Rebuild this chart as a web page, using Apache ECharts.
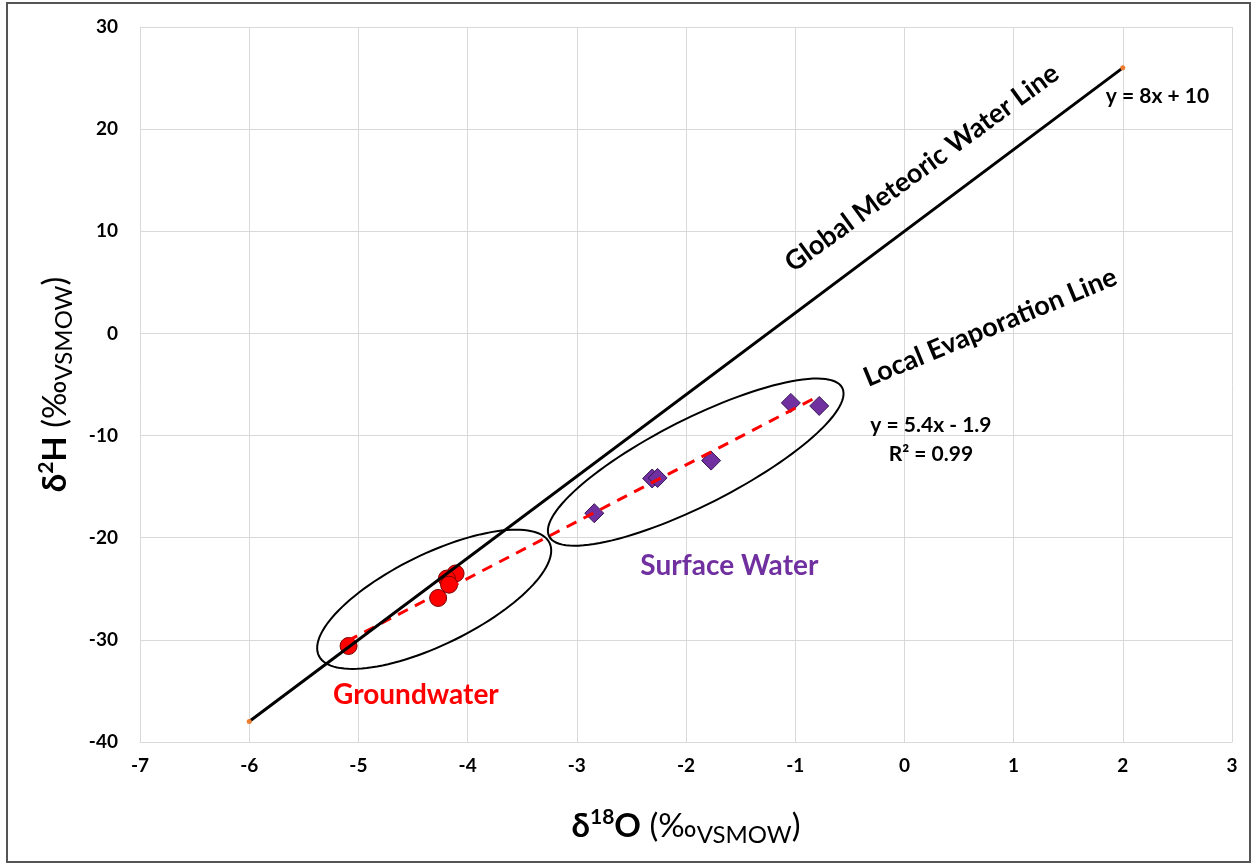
<!DOCTYPE html>
<html>
<head>
<meta charset="utf-8">
<script src="https://cdn.jsdelivr.net/npm/echarts@6/dist/echarts.min.js"></script>
<style>
html,body{margin:0;padding:0;background:#fff;}
#chart{width:1256px;height:865px;}
</style>
</head>
<body>
<div id="chart"></div>
<script>
// ---- data ----
const groundwater = [[-5.09,-30.6],[-4.11,-23.5],[-4.19,-24.0],[-4.17,-24.6],[-4.27,-25.9]];
const surfaceWater = [[-2.84,-17.6],[-2.31,-14.2],[-2.26,-14.15],[-1.77,-12.45],[-1.04,-6.8],[-0.78,-7.1]];
const gmwl = [[-6,-38],[2,26]];
const evapTrend = [[-5.1,-30.1],[-0.78,-6.1]];
const xTicks = {min:-7, max:3, interval:1};
const yTicks = {min:-40, max:30, interval:10};
// ellipses: centre x, centre y, major-axis tip x, tip y, minor/major ratio
const ellipses = [[-4.306,-26.03,-3.25,-20.5,0.353],[-1.911,-12.6,-0.569,-5.33,0.262]];
// annotation texts: x, y (centre), text
const annoText = ['Global Meteoric Water Line','Local Evaporation Line','y = 8x + 10','y = 5.4x - 1.9','R\u00b2 = 0.99','Groundwater','Surface Water'];
const annoPos = [[0.161,16.18],[0.786,0.59],[2.318,23.2],[0.243,-9.0],[0.243,-11.8],[-4.473,-35.4],[-1.603,-22.75]];

const FONT = 'Lato, "Open Sans", sans-serif';
const annoStyle = [
  {font:'bold 27px ' + FONT, fill:'#000', rot:36.2},
  {font:'bold 27px ' + FONT, fill:'#000', rot:22.4},
  {font:'bold 21px ' + FONT, fill:'#000', rot:0},
  {font:'bold 21px ' + FONT, fill:'#000', rot:0},
  {font:'bold 21px ' + FONT, fill:'#000', rot:0},
  {font:'bold 28px ' + FONT, fill:'#ff0000', rot:0},
  {font:'bold 28px ' + FONT, fill:'#7030A0', rot:0}
];

const chart = echarts.init(document.getElementById('chart'));
const axisLabel = {color:'#000', fontFamily:FONT, fontWeight:'bold', fontSize:19};
const richName = {
  b:{fontFamily:FONT, fontWeight:'bold', fontSize:33, color:'#000', lineHeight:42},
  sup:{fontFamily:FONT, fontWeight:'bold', fontSize:21, color:'#000', verticalAlign:'top', lineHeight:42, padding:[2,0,0,0]},
  r:{fontFamily:FONT, fontWeight:'normal', fontSize:33, color:'#000', lineHeight:42},
  sub:{fontFamily:FONT, fontWeight:'normal', fontSize:24, color:'#000', verticalAlign:'bottom', lineHeight:42}
};

chart.setOption({
  animation:false,
  backgroundColor:'#fff',
  grid:{left:140, right:24, top:27, bottom:123, containLabel:false},
  graphic:[{type:'rect', shape:{x:7,y:3,width:1243,height:859}, style:{fill:'none', stroke:'#555', lineWidth:2}, silent:true, z:-1}],
  xAxis:{
    type:'value', min:xTicks.min, max:xTicks.max, interval:xTicks.interval,
    axisLine:{show:true, onZero:false, lineStyle:{color:'#d9d9d9', width:1}},
    axisTick:{show:false},
    splitLine:{show:true, lineStyle:{color:'#d9d9d9', width:1}},
    axisLabel:Object.assign({margin:14}, axisLabel),
    name:'{b|\u03b4}{sup|18}{b|O}{r| (\u2030}{sub|VSMOW}{r|)}',
    nameLocation:'middle', nameGap:63,
    nameTextStyle:{rich:richName}
  },
  yAxis:{
    type:'value', min:yTicks.min, max:yTicks.max, interval:yTicks.interval,
    axisLine:{show:true, onZero:false, lineStyle:{color:'#d9d9d9', width:1}},
    axisTick:{show:false},
    splitLine:{show:true, lineStyle:{color:'#d9d9d9', width:1}},
    axisLabel:Object.assign({margin:22}, axisLabel),
    name:'{b|\u03b4}{sup|2}{b|H}{r| (\u2030}{sub|VSMOW}{r|)}',
    nameLocation:'middle', nameGap:64, nameRotate:90,
    nameTextStyle:{rich:richName}
  },
  series:[
    {
      type:'scatter', name:'Groundwater', data:groundwater, z:3,
      symbol:'circle', symbolSize:17,
      itemStyle:{color:'#ff0000', borderColor:'#7a0000', borderWidth:1, opacity:1}
    },
    {
      type:'scatter', name:'Surface Water', data:surfaceWater, z:3,
      symbol:'diamond', symbolSize:19,
      itemStyle:{color:'#7030A0', borderColor:'#3a1656', borderWidth:1, opacity:1}
    },
    {
      type:'line', name:'Evaporation trend', data:evapTrend, z:4,
      showSymbol:false, symbol:'none',
      lineStyle:{color:'#ff0000', width:3, type:[11,8]}
    },
    {
      type:'line', name:'GMWL', data:gmwl, z:5,
      symbol:'circle', symbolSize:5, showSymbol:true,
      itemStyle:{color:'#ED7D31'},
      lineStyle:{color:'#000', width:3}
    },
    {
      type:'custom', name:'ellipses', data:ellipses, z:6, clip:false, silent:true,
      encode:{x:[0,2], y:[1,3]},
      renderItem:function(params, api){
        const c = api.coord([api.value(0), api.value(1)]);
        const t = api.coord([api.value(2), api.value(3)]);
        const dx = t[0]-c[0], dy = t[1]-c[1];
        const a = Math.sqrt(dx*dx+dy*dy);
        const b = a*api.value(4);
        const ang = Math.atan2(dy, dx);
        const ca = Math.cos(ang), sa = Math.sin(ang);
        const pts = [];
        const N = 120;
        for (let i=0;i<N;i++){
          const th = 2*Math.PI*i/N;
          const ex = a*Math.cos(th), ey = b*Math.sin(th);
          pts.push([c[0] + ex*ca - ey*sa, c[1] + ex*sa + ey*ca]);
        }
        return {type:'polygon', shape:{points:pts}, style:{fill:'none', stroke:'#000', lineWidth:2}};
      }
    },
    {
      type:'custom', name:'annotations', z:7, clip:false, silent:true,
      data:annoPos.map(function(p,i){return [p[0],p[1],i];}),
      encode:{x:0, y:1},
      renderItem:function(params, api){
        const i = api.value(2);
        const p = api.coord([api.value(0), api.value(1)]);
        const s = annoStyle[i];
        return {type:'text', x:p[0], y:p[1], rotation:s.rot*Math.PI/180,
          style:{text:annoText[i], font:s.font, fill:s.fill, align:'center', verticalAlign:'middle'}};
      }
    }
  ]
});
</script>
</body>
</html>
